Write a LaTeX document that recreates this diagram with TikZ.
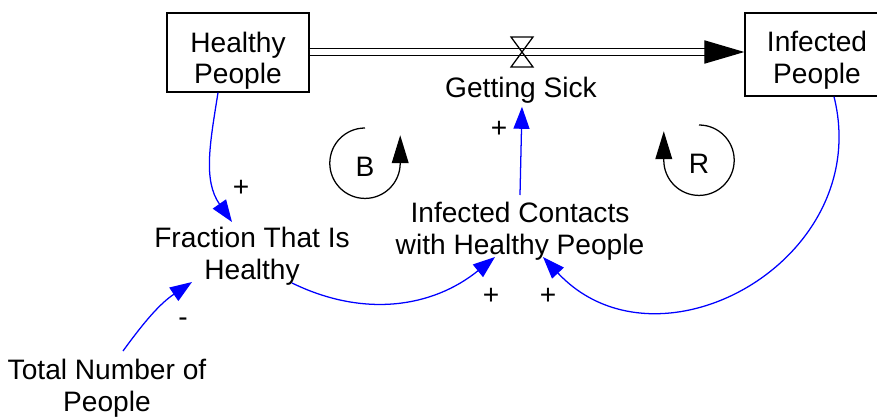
\documentclass[tikz,border=0pt]{standalone}
\usepackage{fontspec}
\setmainfont{Liberation Sans}
\usetikzlibrary{positioning,calc,arrows.meta}

\begin{document}
\begin{tikzpicture}[x=0.025cm, y=-0.025cm,
    every node/.style={font=\fontsize{20}{22.5}\selectfont, align=center, inner sep=1pt},
    stock/.style={draw, line width=0.9pt, inner sep=0pt},
    link/.style={draw=blue, line width=0.9pt, -{Triangle[length=0.55cm, width=0.4cm]}},
    loopmark/.style={draw, line width=0.9pt, -{Triangle[length=0.7cm, width=0.42cm]}}]
    \useasboundingbox (0,0) rectangle (877,416);

    % stocks and the flow between them
    \node[stock, minimum width=3.55cm, minimum height=1.975cm] (hp) at (238,52.5) {\rule{0pt}{26pt}Healthy\\People};
    \node[stock, minimum width=3.6cm, minimum height=2.075cm] (ip) at (817,54.5) {\rule{0pt}{23pt}Infected\\People};
    \coordinate (valve) at (522,52);
    \draw[double, double distance=0.145cm, line width=0.9pt, -{Triangle[length=1cm, width=0.58cm]}] (hp.east |- valve) -- (ip.west |- valve);
    \draw[line width=0.9pt] ($(valve)+(-11,-15)$) -- ++(22,0) -- ++(-22,30) -- ++(22,0) -- cycle;
    \node (gs) at (521,90) {Getting Sick};

    % auxiliaries
    \node (frac) at (252,256) {Fraction That Is\\Healthy};
    \node (ich) at (520,231) {Infected Contacts\\with Healthy People};
    \node (tot) at (107,388) {Total Number of\\People};

    % causal links
    \draw[link] ($(hp.south)+(-20,0)$) to[out=261, in=125] ($(frac)+(-20,-34)$);
    \draw[link] ($(frac)+(40,27)$) to[out=-26, in=219] ($(ich)+(-25,26)$);
    \draw[link] ($(ip.south)+(17,0)$) to[out=-76, in=-47, looseness=1.3] ($(ich)+(23,26)$);
    \draw[link] ($(ich)+(0,-36)$) -- ($(gs.south)+(1,2)$);
    \draw[link] ($(tot)+(16,-37)$) to[out=54, in=214] ($(frac)+(-60,26)$);

    % polarities
    \node (s1) at (241,188) {+};
    \node (s2) at (491,296) {+};
    \node (s3) at (548,296) {+};
    \node (s4) at (499,129) {+};
    \node (s5) at (183,322) {-};

    % loop markers
    \node (loopB) at (365,167) {B};
    \draw[loopmark] ($(loopB)+(0,-39)$) arc[start angle=90, end angle=360, radius=0.88cm] -- ++(0,-28);
    \node (loopR) at (699,164) {R};
    \draw[loopmark] ($(loopR)+(0,-39)$) arc[start angle=90, end angle=-180, radius=0.88cm] -- ++(0,-29);
\end{tikzpicture}
\end{document}
